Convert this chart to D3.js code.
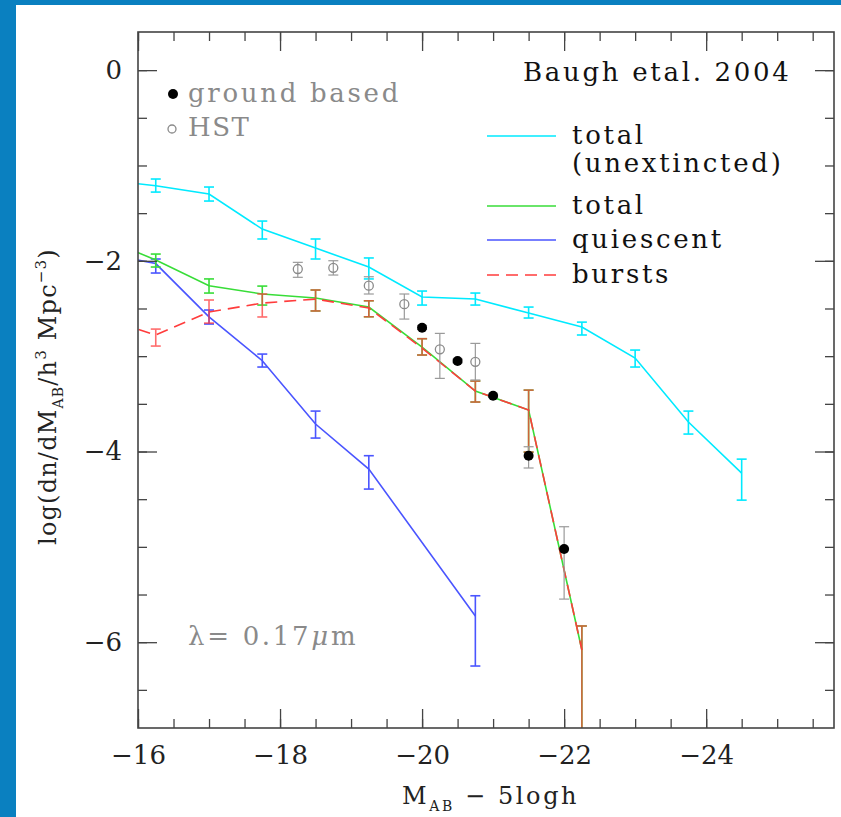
<!DOCTYPE html>
<meta charset="utf-8">
<style>
  body { margin: 0; background: #ffffff; }
  text { font-family: "DejaVu Serif", "Liberation Serif", serif; }
</style>
<body>
<script src="https://d3js.org/d3.v7.min.js"></script>
<script>
// model bins (M_AB - 5logh); first bin lies just off the plot, lines run out of the frame
let modelMags = [-15.5, -16.25, -17, -17.75, -18.5, -19.25, -20, -20.75, -21.5, -22.25, -23, -23.75, -24.5];

// total (unextincted)
let unextVal = [-1.153, -1.212, -1.300, -1.667, -1.866, -2.065, -2.380, -2.401, -2.548, -2.695, -3.020, -3.691, -4.226];
let unextLo  = [null, -1.279, -1.373, -1.771, -1.981, -2.190, -2.464, -2.464, -2.600, -2.778, -3.114, -3.817, -4.510];
let unextHi  = [null, -1.142, -1.226, -1.583, -1.771, -1.970, -2.317, -2.338, -2.485, -2.643, -2.936, -3.576, -4.080];

// total
let totalMags = [-15.5, -16.25, -17, -17.75, -18.5, -19.25, -20, -20.75, -21.5, -22.25];
let totalVal = [-1.756, -1.992, -2.261, -2.348, -2.390, -2.485, -2.905, -3.366, -3.565, -6.082];
let totalLo  = [null, -2.065, -2.338, -2.464, -2.526, -2.587, -2.988, -3.481, -4.006, -9.0];
let totalHi  = [null, -1.929, -2.190, -2.265, -2.306, -2.419, -2.817, -3.261, -3.356, -5.830];

// quiescent
let quiesMags = [-15.5, -16.25, -17, -17.75, -18.5, -19.25, -20.75];
let quiesVal = [-1.920, -2.029, -2.587, -3.048, -3.712, -4.184, -5.726];
let quiesLo  = [null, -2.128, -2.663, -3.114, -3.859, -4.394, -6.250];
let quiesHi  = [null, -1.981, -2.516, -2.978, -3.576, -4.044, -5.513];

// bursts
let burstMags = [-15.5, -16.25, -17, -17.75, -18.5, -19.25, -20, -20.75, -21.5, -22.25];
let burstVal = [-2.598, -2.778, -2.537, -2.443, -2.401, -2.495, -2.915, -3.366, -3.565, -6.082];
let burstLo  = [null, -2.894, -2.653, -2.589, -2.526, -2.587, -2.988, -3.481, -4.006, -9.0];
let burstHi  = [null, -2.716, -2.411, -2.348, -2.306, -2.419, -2.817, -3.261, -3.356, -5.830];

// observations
let groundMags = [-20, -20.5, -21, -21.5, -22];
let groundVal = [-2.702, -3.051, -3.415, -4.044, -5.023];
let groundLo  = [-2.72, -3.07, -3.43, -4.173, -5.548];
let groundHi  = [-2.68, -3.03, -3.40, -3.950, -4.789];

let hstMags = [-18.25, -18.75, -19.25, -19.75, -20.25, -20.75];
let hstVal = [-2.086, -2.073, -2.261, -2.455, -2.928, -3.059];
let hstLo  = [-2.173, -2.149, -2.348, -2.611, -3.233, -3.250];
let hstHi  = [-2.016, -1.999, -2.167, -2.348, -2.761, -2.866];

let xMajor = [-16, -18, -20, -22, -24];
let yMajor = [0, -2, -4, -6];

const W = 841, H = 817;
const mLeft = 138, mRight = 834, mTop = 32, mBottom = 728;

let svg = d3.select("body").append("svg")
    .attr("width", W).attr("height", H);

// blue frame
svg.append("rect").attr("x", 0).attr("y", 0).attr("width", W).attr("height", 5).attr("fill", "#0a80c0");
svg.append("rect").attr("x", 0).attr("y", 0).attr("width", 16).attr("height", H).attr("fill", "#0a80c0");

let x = d3.scaleLinear().domain([-16, -25.8]).range([mLeft, mRight]);
let y = d3.scaleLinear().domain([0.4, -6.9]).range([mTop, mBottom]);

svg.append("clipPath").attr("id", "clip")
  .append("rect").attr("x", mLeft).attr("y", mTop)
  .attr("width", mRight - mLeft).attr("height", mBottom - mTop);

let plot = svg.append("g").attr("clip-path", "url(#clip)");

function rows(mags, vals, lo, hi) {
    return mags.map((m, i) => ({m: m, v: vals[i], lo: lo[i], hi: hi[i]}));
}

let line = d3.line().x(d => x(d.m)).y(d => y(d.v));

function drawModel(data, color, opts) {
    opts = opts || {};
    let g = plot.append("g");
    g.append("path").datum(data)
        .attr("d", line)
        .attr("fill", "none")
        .attr("stroke", color)
        .attr("stroke-width", 1.6)
        .attr("stroke-dasharray", opts.dash || null);
    let eb = data.filter(d => d.lo !== null);
    let bars = g.selectAll("g.eb").data(eb).join("g")
        .attr("stroke", color).attr("stroke-width", 1.6)
        .attr("opacity", opts.barOpacity || 1);
    bars.append("line")
        .attr("x1", d => x(d.m)).attr("x2", d => x(d.m))
        .attr("y1", d => y(d.lo)).attr("y2", d => y(d.hi));
    bars.append("line")
        .attr("x1", d => x(d.m) - 5).attr("x2", d => x(d.m) + 5)
        .attr("y1", d => y(d.lo)).attr("y2", d => y(d.lo));
    bars.append("line")
        .attr("x1", d => x(d.m) - 5).attr("x2", d => x(d.m) + 5)
        .attr("y1", d => y(d.hi)).attr("y2", d => y(d.hi));
}

drawModel(rows(modelMags, unextVal, unextLo, unextHi), "#00eaff");
drawModel(rows(quiesMags, quiesVal, quiesLo, quiesHi), "#4a55ff");
drawModel(rows(totalMags, totalVal, totalLo, totalHi), "#38dd38");
drawModel(rows(burstMags, burstVal, burstLo, burstHi), "#ff3c3c", {dash: "12,7", barOpacity: 0.75});

// observational points
function drawObs(data, filled) {
    let g = plot.append("g");
    let bars = g.selectAll("g.eb").data(data).join("g")
        .attr("stroke", "#9a9a9a").attr("stroke-width", 1.2);
    bars.append("line")
        .attr("x1", d => x(d.m)).attr("x2", d => x(d.m))
        .attr("y1", d => y(d.lo)).attr("y2", d => y(d.hi));
    bars.append("line")
        .attr("x1", d => x(d.m) - 5).attr("x2", d => x(d.m) + 5)
        .attr("y1", d => y(d.lo)).attr("y2", d => y(d.lo));
    bars.append("line")
        .attr("x1", d => x(d.m) - 5).attr("x2", d => x(d.m) + 5)
        .attr("y1", d => y(d.hi)).attr("y2", d => y(d.hi));
    g.selectAll("circle").data(data).join("circle")
        .attr("cx", d => x(d.m)).attr("cy", d => y(d.v))
        .attr("r", filled ? 5 : 4.5)
        .attr("fill", filled ? "#000" : "none")
        .attr("stroke", filled ? "none" : "#8a8a8a")
        .attr("stroke-width", 1.3);
}
drawObs(rows(hstMags, hstVal, hstLo, hstHi), false);
drawObs(rows(groundMags, groundVal, groundLo, groundHi), true);

// axes, ticks inward on all four sides
let xMinor = d3.range(-16, -25.81, -0.5);
let yMinor = d3.range(0, -6.91, -0.5);
let fmt = d => d === 0 ? "0" : "\u2212" + Math.abs(d);

function styleAxis(g) {
    g.select(".domain").remove();
    g.selectAll("line").attr("stroke", "#444").attr("stroke-width", 1.3);
    g.selectAll("text").attr("font-size", 26).attr("fill", "#222")
        .style("font-family", "'DejaVu Serif', serif");
}

svg.append("g").attr("transform", `translate(0,${mBottom})`)
    .call(d3.axisBottom(x).tickValues(xMinor).tickSize(-9).tickFormat("")).call(styleAxis);
svg.append("g").attr("transform", `translate(0,${mBottom})`)
    .call(d3.axisBottom(x).tickValues(xMajor).tickSize(-19).tickPadding(18).tickFormat(fmt)).call(styleAxis);
svg.append("g").attr("transform", `translate(0,${mTop})`)
    .call(d3.axisTop(x).tickValues(xMinor).tickSize(-9).tickFormat("")).call(styleAxis);
svg.append("g").attr("transform", `translate(0,${mTop})`)
    .call(d3.axisTop(x).tickValues(xMajor).tickSize(-19).tickFormat("")).call(styleAxis);

svg.append("g").attr("transform", `translate(${mLeft},0)`)
    .call(d3.axisLeft(y).tickValues(yMinor).tickSize(-9).tickFormat("")).call(styleAxis);
svg.append("g").attr("transform", `translate(${mLeft},0)`)
    .call(d3.axisLeft(y).tickValues(yMajor).tickSize(-19).tickPadding(16).tickFormat(fmt)).call(styleAxis);
svg.append("g").attr("transform", `translate(${mRight},0)`)
    .call(d3.axisRight(y).tickValues(yMinor).tickSize(-9).tickFormat("")).call(styleAxis);
svg.append("g").attr("transform", `translate(${mRight},0)`)
    .call(d3.axisRight(y).tickValues(yMajor).tickSize(-19).tickFormat("")).call(styleAxis);

svg.append("rect").attr("x", mLeft).attr("y", mTop)
    .attr("width", mRight - mLeft).attr("height", mBottom - mTop)
    .attr("fill", "none").attr("stroke", "#444").attr("stroke-width", 1.6);

// axis titles
let xt = svg.append("text").attr("x", 402).attr("y", 804)
    .attr("font-size", 24).attr("fill", "#222")
    .attr("letter-spacing", 2.6);
xt.append("tspan").text("M");
xt.append("tspan").attr("font-size", 14).attr("dy", 7).text("AB");
xt.append("tspan").attr("dy", -7).text("  \u2212  5logh");

let yt = svg.append("text")
    .attr("transform", "translate(56,545) rotate(-90)")
    .attr("font-size", 24).attr("fill", "#222")
    .attr("letter-spacing", 1.2);
yt.append("tspan").text("log(dn/dM");
yt.append("tspan").attr("font-size", 14).attr("dy", 7).text("AB");
yt.append("tspan").attr("dy", -7).text("/h");
yt.append("tspan").attr("font-size", 15).attr("dy", -10).text("3");
yt.append("tspan").attr("dy", 10).text(" Mpc");
yt.append("tspan").attr("font-size", 15).attr("dy", -10).text("\u22123");
yt.append("tspan").attr("dy", 10).text(")");

// annotations
const fs = 26, ls = 2.7;
svg.append("text").attr("x", 523).attr("y", 81).attr("font-size", fs)
    .attr("fill", "#111").attr("letter-spacing", ls).text("Baugh etal. 2004");

svg.append("circle").attr("cx", 173).attr("cy", 94).attr("r", 5).attr("fill", "#000");
svg.append("text").attr("x", 188).attr("y", 102).attr("font-size", fs)
    .attr("fill", "#8a8a8a").attr("letter-spacing", ls).text("ground based");
svg.append("circle").attr("cx", 172).attr("cy", 129).attr("r", 4).attr("fill", "none")
    .attr("stroke", "#8a8a8a").attr("stroke-width", 1.3);
svg.append("text").attr("x", 188).attr("y", 136).attr("font-size", fs)
    .attr("fill", "#8a8a8a").attr("letter-spacing", 1.5).text("HST");

let lam = svg.append("text").attr("x", 188).attr("y", 645).attr("font-size", fs)
    .attr("fill", "#8a8a8a").attr("letter-spacing", ls);
lam.append("tspan").text("\u03bb= 0.17");
lam.append("tspan").attr("font-style", "italic").text("\u03bc");
lam.append("tspan").text("m");

// legend
let legendNames = ["total", "total", "quiescent", "bursts"];
let legendColors = ["#00eaff", "#38dd38", "#4a55ff", "#ff3c3c"];
let legendY = [136, 206, 240, 275];
let lg = svg.append("g");
legendNames.forEach((n, i) => {
    lg.append("line").attr("x1", 487).attr("x2", 556)
        .attr("y1", legendY[i]).attr("y2", legendY[i])
        .attr("stroke", legendColors[i]).attr("stroke-width", 1.6)
        .attr("stroke-dasharray", i === 3 ? "12,7" : null);
    lg.append("text").attr("x", 572).attr("y", legendY[i] + 8)
        .attr("font-size", fs).attr("fill", "#111").attr("letter-spacing", ls).text(n);
});
lg.append("text").attr("x", 572).attr("y", 172).attr("font-size", fs)
    .attr("fill", "#111").attr("letter-spacing", ls).text("(unextincted)");
</script>
</body>
